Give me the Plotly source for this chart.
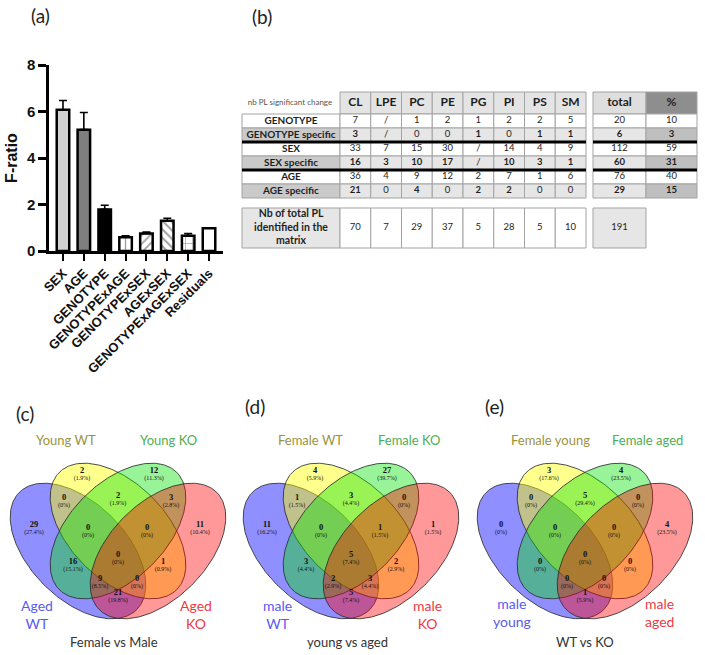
import numpy as np
import plotly.graph_objects as go

# ---------------- data: (a) F-ratio bar chart ----------------
factors = ["SEX", "AGE", "GENOTYPE", "GENOTYPExAGE", "GENOTYPExSEX",
           "AGExSEX", "GENOTYPExAGExSEX", "Residuals"]
f_ratio = [6.07, 5.22, 1.79, 0.59, 0.75, 1.30, 0.66, 0.98]
f_err_up = [0.40, 0.74, 0.18, 0.06, 0.06, 0.11, 0.09, 0.0]

# ---------------- data: (b) table ----------------
pl_classes = ["CL", "LPE", "PC", "PE", "PG", "PI", "PS", "SM"]
row_labels = ["GENOTYPE", "GENOTYPE specific", "SEX", "SEX specific", "AGE", "AGE specific"]
genotype_counts = ["7", "/", "1", "2", "1", "2", "2", "5"]
genotype_specific = ["3", "/", "0", "0", "1", "0", "1", "1"]
sex_counts = ["33", "7", "15", "30", "/", "14", "4", "9"]
sex_specific = ["16", "3", "10", "17", "/", "10", "3", "1"]
age_counts = ["36", "4", "9", "12", "2", "7", "1", "6"]
age_specific = ["21", "0", "4", "0", "2", "2", "0", "0"]
total_counts = [20, 6, 112, 60, 76, 29]
percent_counts = [10, 3, 59, 31, 40, 15]
total_pl = [70, 7, 29, 37, 5, 28, 5, 10]
total_pl_all = 191
header_label = "nb PL significant change"
bottom_label = "Nb of total PL<br>identified in the<br>matrix"

# ---------------- data: (c)(d)(e) Venn diagrams ----------------
# region order: Y, G, BY, YG, GR, B, R, BYG, YGR, BYGR, BG, YR, BGR, BYR, BR
venn_c_counts = [2, 12, 0, 2, 3, 29, 11, 0, 0, 0, 16, 1, 9, 0, 21]
venn_d_counts = [4, 27, 1, 3, 0, 11, 1, 0, 1, 5, 3, 2, 2, 3, 5]
venn_e_counts = [3, 4, 0, 5, 0, 0, 4, 0, 0, 0, 0, 0, 0, 0, 1]
venn_c_sets = ["Young WT", "Young KO", "Aged<br>WT", "Aged<br>KO"]
venn_d_sets = ["Female WT", "Female KO", "male<br>WT", "male<br>KO"]
venn_e_sets = ["Female young", "Female aged", "male<br>young", "male<br>aged"]
venn_titles = ["Female vs Male", "young vs aged", "WT vs KO"]
panel_labels = ["(a)", "(b)", "(c)", "(d)", "(e)"]

# ---------------- style ----------------
W, H = 705, 655
SANS = "Lato"
ARIAL = "Liberation Sans"
SERIF = "Liberation Serif"

bar_colors = ["#d2d2d2", "#7f7f7f", "#000000", "white", "white", "white", "white", "white"]
bar_patterns = ["", "", "", "|", "/", "\\", "+", ""]
pattern_sizes = [6, 6, 6, 9, 6, 6, 7, 6]
pattern_solid = [0.3, 0.3, 0.3, 0.15, 0.3, 0.35, 0.2, 0.3]

fig = go.Figure()

# ---------------- (a) bars ----------------
fig.add_trace(go.Bar(
    x=factors, y=f_ratio, width=0.6, xaxis="x", yaxis="y", showlegend=False,
    marker=dict(color=bar_colors, line=dict(color="black", width=2.5),
                pattern=dict(shape=bar_patterns, fgcolor="black", size=pattern_sizes,
                             solidity=pattern_solid)),
    error_y=dict(type="data", symmetric=False, array=f_err_up, arrayminus=[0] * len(f_err_up),
                 color="black", thickness=1.6, width=4),
    hoverinfo="skip"))

# ---------------- (b) table ----------------
tx0, tlabel_w, tcol_w, tgap, ttot_w, tpct_w = 242, 98, 30.75, 7, 53, 51
ty0, thead_h, trow_h, tgap_v, tbot_h = 92, 22, 14, 10, 40
col_x0 = [tx0 + tlabel_w + i * tcol_w for i in range(len(pl_classes))]
tot_x0 = col_x0[-1] + tcol_w + tgap
pct_x0 = tot_x0 + ttot_w
row_y0 = [ty0 + thead_h + r * trow_h for r in range(len(row_labels))]
bot_y0 = row_y0[-1] + trow_h + tgap_v
border = "#a3a3a3"
shapes = []


def cell(x0, x1, y0, y1, fill):
    shapes.append(dict(type="rect", xref="x2", yref="y2", x0=x0, x1=x1, y0=y0, y1=y1,
                       fillcolor=fill, line=dict(color=border, width=1), layer="below"))


rows = [genotype_counts, genotype_specific, sex_counts, sex_specific, age_counts, age_specific]
tx, ty, tt, ts = [], [], [], []
# header
for i, c in enumerate(pl_classes):
    cell(col_x0[i], col_x0[i] + tcol_w, ty0, ty0 + thead_h, "#e4e4e4")
    tx.append(col_x0[i] + tcol_w / 2); ty.append(ty0 + thead_h / 2); tt.append("<b>%s</b>" % c); ts.append(12)
cell(tot_x0, tot_x0 + ttot_w, ty0, ty0 + thead_h, "#dedede")
cell(pct_x0, pct_x0 + tpct_w, ty0, ty0 + thead_h, "#8e8e8e")
tx += [tot_x0 + ttot_w / 2, pct_x0 + tpct_w / 2]; ty += [ty0 + thead_h / 2] * 2
tt += ["<b>total</b>", "<b>%</b>"]; ts += [12, 12]

for r, lab in enumerate(row_labels):
    spec = "specific" in lab
    y0 = row_y0[r]; yc = y0 + trow_h / 2
    cell(tx0, tx0 + tlabel_w, y0, y0 + trow_h, "#cacaca" if spec else "white")
    tx.append(tx0 + tlabel_w / 2); ty.append(yc); tt.append("<b>%s</b>" % lab); ts.append(10)
    for i, v in enumerate(rows[r]):
        cell(col_x0[i], col_x0[i] + tcol_w, y0, y0 + trow_h, "#e6e6e6" if spec else "white")
        bold = spec and v not in ("/", "0")
        tx.append(col_x0[i] + tcol_w / 2); ty.append(yc)
        tt.append("<b>%s</b>" % v if bold else v); ts.append(9.5)
    cell(tot_x0, tot_x0 + ttot_w, y0, y0 + trow_h, "#e6e6e6" if spec else "white")
    cell(pct_x0, pct_x0 + tpct_w, y0, y0 + trow_h, "#bfbfbf" if spec else "white")
    for xc, v in [(tot_x0 + ttot_w / 2, total_counts[r]), (pct_x0 + tpct_w / 2, percent_counts[r])]:
        tx.append(xc); ty.append(yc); tt.append("<b>%d</b>" % v if spec else str(v)); ts.append(9.5)

# bottom row
cell(tx0, tx0 + tlabel_w, bot_y0, bot_y0 + tbot_h, "#e6e6e6")
tx.append(tx0 + tlabel_w / 2); ty.append(bot_y0 + tbot_h / 2); tt.append("<b>%s</b>" % bottom_label); ts.append(10.5)
for i, v in enumerate(total_pl):
    cell(col_x0[i], col_x0[i] + tcol_w, bot_y0, bot_y0 + tbot_h, "white")
    tx.append(col_x0[i] + tcol_w / 2); ty.append(bot_y0 + tbot_h / 2); tt.append(str(v)); ts.append(9.5)
cell(tot_x0, tot_x0 + ttot_w, bot_y0, bot_y0 + tbot_h, "#e6e6e6")
tx.append(tot_x0 + ttot_w / 2); ty.append(bot_y0 + tbot_h / 2); tt.append(str(total_pl_all)); ts.append(9.5)

# thick separators
for r in (2, 4):
    for xa, xb in [(tx0, col_x0[-1] + tcol_w), (tot_x0, pct_x0 + tpct_w)]:
        shapes.append(dict(type="line", xref="x2", yref="y2", x0=xa, x1=xb, y0=row_y0[r], y1=row_y0[r],
                           line=dict(color="black", width=3)))

fig.add_trace(go.Scatter(x=tx, y=ty, text=tt, mode="text", xaxis="x2", yaxis="y2",
                         textfont=dict(family=SANS, size=ts, color="#1e1e1e"),
                         showlegend=False, hoverinfo="skip", cliponaxis=False))
fig.add_trace(go.Scatter(x=[tx0 + tlabel_w / 2 - 1], y=[ty0 + thead_h / 2], text=[header_label], mode="text",
                         xaxis="x2", yaxis="y2", textfont=dict(family=SANS, size=8, color="#555555"),
                         showlegend=False, hoverinfo="skip", cliponaxis=False))

# ---------------- Venn diagrams ----------------
ell_a, ell_b = 83, 48
ell_specs = [  # (cx, cy, angle, fill)
    (-40, -20, -45, "rgba(20,20,255,0.48)"),
    (0, 0, -45, "rgba(255,255,0,0.45)"),
    (0, 0, 45, "rgba(0,225,0,0.40)"),
    (40, -20, 45, "rgba(255,0,0,0.40)"),
]
region_pos = [(-36, 58), (36, 58), (-54, 31), (0, 33), (53, 31), (-84, 4), (82, 4), (-30, 1), (29, 1),
              (0, -26), (-45, -33), (45, -33), (-18, -50), (19, -50), (0, -64)]
venn_centers_px = [118, 351, 585]
venn_cy_px = 531
set_label_pos = [
    [(-52, 91), (50, 91), (-81, -83), (78, -83)],
    [(-41, 91), (58, 91), (-74, -83), (76, -83)],
    [(-35, 91), (62, 91), (-73, -81), (74, -81)],
]
set_colors = ["#9a9440", "#4fae55", "#5a5af0", "#ee3a44"]
annotations = []
all_counts = [venn_c_counts, venn_d_counts, venn_e_counts]
all_sets = [venn_c_sets, venn_d_sets, venn_e_sets]
half = 116
t = np.linspace(0, 2 * np.pi, 240)
for k in range(3):
    xa, ya = "x%d" % (k + 3), "y%d" % (k + 3)
    for (cx, cy, ang, fill) in ell_specs:
        ca, sa = np.cos(np.radians(ang)), np.sin(np.radians(ang))
        ex = cx + ell_a * np.cos(t) * ca - ell_b * np.sin(t) * sa
        ey = cy + ell_a * np.cos(t) * sa + ell_b * np.sin(t) * ca
        fig.add_trace(go.Scatter(x=ex, y=ey, mode="lines", fill="toself", fillcolor=fill,
                                 line=dict(color="rgba(45,45,45,0.85)", width=1),
                                 xaxis=xa, yaxis=ya, showlegend=False, hoverinfo="skip"))
    counts = all_counts[k]
    tot = sum(counts)
    pct = ["(0%)" if n == 0 else "(%.1f%%)" % (100.0 * n / tot) for n in counts]
    fig.add_trace(go.Scatter(x=[p[0] for p in region_pos], y=[p[1] + 2 for p in region_pos],
                             text=["<b>%d</b>" % n for n in counts], mode="text",
                             textfont=dict(family=SERIF, size=8.5, color="#111"),
                             xaxis=xa, yaxis=ya, showlegend=False, hoverinfo="skip", cliponaxis=False))
    fig.add_trace(go.Scatter(x=[p[0] for p in region_pos], y=[p[1] - 5 for p in region_pos],
                             text=pct, mode="text",
                             textfont=dict(family=SERIF, size=6, color="#111"),
                             xaxis=xa, yaxis=ya, showlegend=False, hoverinfo="skip", cliponaxis=False))
    for j, name in enumerate(all_sets[k]):
        px, py = set_label_pos[k][j]
        annotations.append(dict(x=px, y=py, xref=xa, yref=ya, text=name, showarrow=False,
                                xanchor="center", yanchor="middle",
                                font=dict(family=SANS, size=13 if j < 2 else 14, color=set_colors[j])))
    annotations.append(dict(x=-4 if k < 2 else 0, y=-111, xref=xa, yref=ya, text=venn_titles[k], showarrow=False,
                            xanchor="center", yanchor="middle",
                            font=dict(family=SANS, size=13, color="#333")))

# panel labels
panel_pos = [(40, 16), (262, 17), (25, 413), (255, 407), (494, 406)]
for lab, (px, py) in zip(panel_labels, panel_pos):
    annotations.append(dict(x=px / W, y=1 - py / H, xref="paper", yref="paper", text=lab, showarrow=False,
                            xanchor="center", yanchor="middle",
                            font=dict(family=SANS, size=19, color="#222")))

# ---------------- layout ----------------
hidden = dict(visible=False, fixedrange=True, automargin=False)
layout = dict(
    width=W, height=H, margin=dict(l=0, r=0, t=0, b=0, autoexpand=False),
    paper_bgcolor="white", plot_bgcolor="white", showlegend=False,
    xaxis=dict(domain=[49 / W, 223 / W], type="category", range=[-0.67, 7.67], automargin=False,
               showline=True, linecolor="black", linewidth=2.5, ticks="outside", ticklen=7,
               tickwidth=2.2, tickcolor="black", tickangle=-45, showgrid=False, zeroline=False,
               fixedrange=True,
               tickfont=dict(family=ARIAL, size=13, color="#111", weight="bold")),
    yaxis=dict(domain=[1 - 251 / H, 1 - 65 / H], range=[0, 8], tickvals=[0, 2, 4, 6, 8], automargin=False,
               showline=True, linecolor="black", linewidth=2.5, ticks="outside", ticklen=8,
               tickwidth=2.5, tickcolor="black", showgrid=False, zeroline=False, fixedrange=True,
               tickfont=dict(family=ARIAL, size=15, color="#111", weight="bold"),
               title=dict(text="F-ratio", standoff=6,
                          font=dict(family=ARIAL, size=16, color="#111", weight="bold"))),
    xaxis2=dict(domain=[240 / W, 700 / W], range=[240, 700], anchor="y2", **hidden),
    yaxis2=dict(domain=[1 - 250 / H, 1 - 90 / H], range=[250, 90], anchor="x2", **hidden),
    shapes=shapes, annotations=annotations,
)
for k, cxp in enumerate(venn_centers_px):
    layout["xaxis%d" % (k + 3)] = dict(domain=[(cxp - half) / W, (cxp + half) / W], range=[-half, half],
                                       anchor="y%d" % (k + 3), **hidden)
    layout["yaxis%d" % (k + 3)] = dict(domain=[0, (H - 425) / H], range=[venn_cy_px - H, venn_cy_px - 425],
                                       anchor="x%d" % (k + 3), **hidden)
fig.update_layout(**layout)
fig.write_html("out.html", config={"displayModeBar": False},
               post_script="document.body.style.margin='0px';document.body.style.overflow='hidden';")
